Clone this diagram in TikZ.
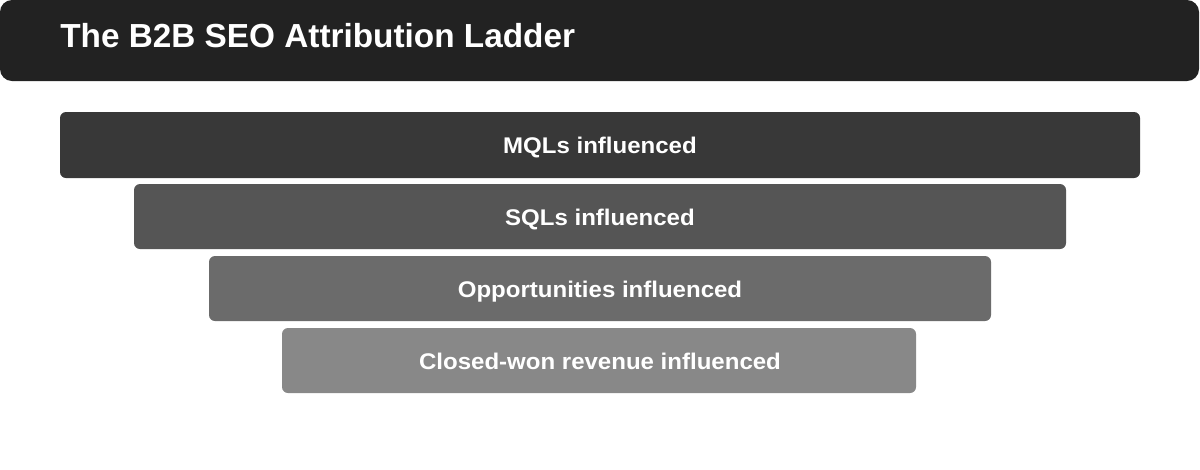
\documentclass[tikz,border=0pt]{standalone}
\usepackage{fontspec}
\setmainfont{Liberation Sans}
\newfontfamily\lblfont[FakeStretch=1.06]{Liberation Sans}
\begin{document}
\begin{tikzpicture}[x=0.75pt,y=-0.75pt,
  titlebar/.style={fill=title, rounded corners=9pt},
  rung/.style={rounded corners=4.5pt},
  lbl/.style={text=white, font=\lblfont\bfseries\fontsize{17}{20}\selectfont, inner sep=0pt, anchor=base},
  ttl/.style={text=white, font=\bfseries\fontsize{25}{30}\selectfont, inner sep=0pt, anchor=base west}]
\definecolor{title}{HTML}{222222}
\definecolor{c1}{HTML}{383838}
\definecolor{c2}{HTML}{555555}
\definecolor{c3}{HTML}{6B6B6B}
\definecolor{c4}{HTML}{888888}
\useasboundingbox[fill=white] (0,0) rectangle (1200,469);
\fill[titlebar] (0,0) rectangle (1199,81);
\node[ttl] (title) at (60,47) {The B2B SEO Attribution Ladder};
\fill[rung, c1] (60,112) rectangle (1140,178);
\fill[rung, c2] (134,184) rectangle (1066,249);
\fill[rung, c3] (209,256) rectangle (991,321);
\fill[rung, c4] (282,328) rectangle (916,393);
\node[lbl] (l1) at (600,153) {MQLs influenced};
\node[lbl] (l2) at (600,225) {SQLs influenced};
\node[lbl] (l3) at (600,297) {Opportunities influenced};
\node[lbl] (l4) at (600,369) {Closed-won revenue influenced};
\end{tikzpicture}
\end{document}
